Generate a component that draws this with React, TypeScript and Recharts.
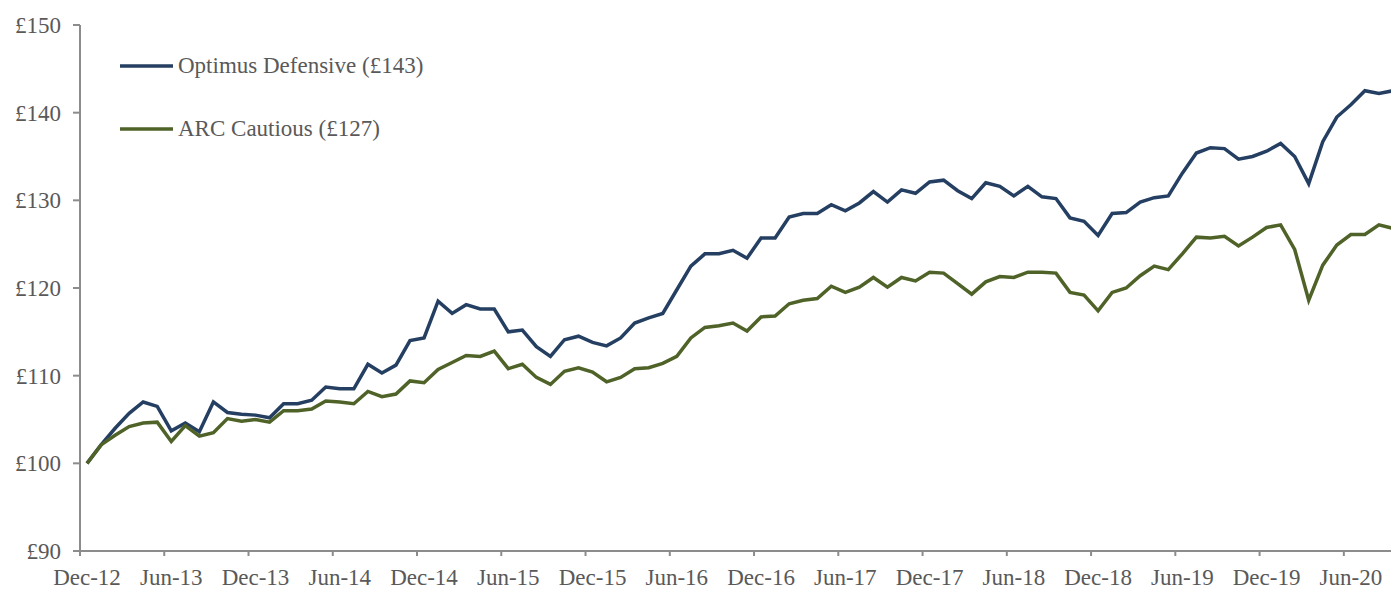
import React from 'react';
import { LineChart, Line, XAxis, YAxis } from 'recharts';

// monthly index values, Dec-12 = 100
const optimus = [
  100.0, 102.1, 104.0, 105.7, 107.0, 106.5, 103.7, 104.6, 103.6, 107.0,
  105.8, 105.6, 105.5, 105.2, 106.8, 106.8, 107.2, 108.7, 108.5, 108.5,
  111.3, 110.3, 111.2, 114.0, 114.3, 118.5, 117.1, 118.1, 117.6, 117.6,
  115.0, 115.2, 113.3, 112.2, 114.1, 114.5, 113.8, 113.4, 114.3, 116.0,
  116.6, 117.1, 119.8, 122.5, 123.9, 123.9, 124.3, 123.4, 125.7, 125.7,
  128.1, 128.5, 128.5, 129.5, 128.8, 129.7, 131.0, 129.8, 131.2, 130.8,
  132.1, 132.3, 131.1, 130.2, 132.0, 131.6, 130.5, 131.6, 130.4, 130.2,
  128.0, 127.6, 126.0, 128.5, 128.6, 129.8, 130.3, 130.5, 133.1, 135.4,
  136.0, 135.9, 134.7, 135.0, 135.6, 136.5, 135.0, 131.9, 136.7, 139.5,
  140.9, 142.5, 142.2, 142.5,
];

const arcCautious = [
  100.0, 102.1, 103.2, 104.2, 104.6, 104.7, 102.5, 104.3, 103.1, 103.5,
  105.1, 104.8, 105.0, 104.7, 106.0, 106.0, 106.2, 107.1, 107.0, 106.8,
  108.2, 107.6, 107.9, 109.4, 109.2, 110.7, 111.5, 112.3, 112.2, 112.8,
  110.8, 111.3, 109.8, 109.0, 110.5, 110.9, 110.4, 109.3, 109.8, 110.8,
  110.9, 111.4, 112.2, 114.3, 115.5, 115.7, 116.0, 115.1, 116.7, 116.8,
  118.2, 118.6, 118.8, 120.2, 119.5, 120.1, 121.2, 120.1, 121.2, 120.8,
  121.8, 121.7, 120.5, 119.3, 120.7, 121.3, 121.2, 121.8, 121.8, 121.7,
  119.5, 119.2, 117.4, 119.5, 120.0, 121.4, 122.5, 122.1, 123.9, 125.8,
  125.7, 125.9, 124.8, 125.8, 126.9, 127.2, 124.4, 118.6, 122.6, 124.9,
  126.1, 126.1, 127.2, 126.8,
];

const tickLabels = [
  'Dec-12', 'Jun-13', 'Dec-13', 'Jun-14', 'Dec-14', 'Jun-15', 'Dec-15', 'Jun-16',
  'Dec-16', 'Jun-17', 'Dec-17', 'Jun-18', 'Dec-18', 'Jun-19', 'Dec-19', 'Jun-20',
];
const yTicks = [90, 100, 110, 120, 130, 140, 150];

const seriesNames = ['Optimus Defensive (£143)', 'ARC Cautious (£127)'];
const colors = ['#253f62', '#4f6228'];

const data = optimus.map((v, i) => ({ i, optimus: v, arc: arcCautious[i] }));

const CHART_W = 1400;
const CHART_H = 589;
const LEFT = 80;
const UNIT = (CHART_W - LEFT) / data.length;
const FONT = '"Liberation Serif", "Times New Roman", serif';
const FS = 23;
const AXIS = '#8c8c8c';
const TEXT = '#595959';

const XTick = (props: any) => {
  const { x, y, payload } = props;
  const bx = x - UNIT / 2;
  return (
    <g>
      <line x1={bx} y1={y} x2={bx} y2={y + 5} stroke={AXIS} strokeWidth={2} />
      <text x={x} y={y + 34} textAnchor="middle" fill={TEXT} fontSize={FS} fontFamily={FONT}>
        {tickLabels[payload.value / 6]}
      </text>
    </g>
  );
};

// legend sits inside the plot, top-left, so draw it as an overlay
const LegendBox = () => (
  <div style={{ position: 'absolute', top: 34, left: 120, fontFamily: FONT, fontSize: FS, color: TEXT }}>
    {seriesNames.map((n, k) => (
      <div key={n} style={{ display: 'flex', alignItems: 'center', height: 63 }}>
        <svg width={58} height={10}>
          <line x1={0} y1={5} x2={53} y2={5} stroke={colors[k]} strokeWidth={3.5} />
        </svg>
        <span>{n}</span>
      </div>
    ))}
  </div>
);

export default function App() {
  return (
    <div style={{ position: 'absolute', left: 0, top: 0, width: 1391, height: 589, overflow: 'hidden', background: '#fff' }}>
      <style>{'body{margin:0}'}</style>
      <LineChart width={CHART_W} height={CHART_H} data={data} margin={{ top: 25, right: 0, bottom: 0, left: 0 }}>
        <XAxis
          dataKey="i"
          type="number"
          domain={[-0.5, data.length - 0.5]}
          ticks={tickLabels.map((_, k) => k * 6)}
          height={38}
          tickSize={0}
          tickMargin={0}
          tick={<XTick />}
          stroke={AXIS}
          strokeWidth={2}
          interval={0}
        />
        <YAxis
          domain={[90, 150]}
          ticks={yTicks}
          width={LEFT}
          tickSize={7}
          tickMargin={12}
          tickFormatter={(v) => `£${v}`}
          tick={{ fill: TEXT, fontSize: FS, fontFamily: FONT }}
          stroke={AXIS}
          strokeWidth={2}
        />
        <Line dataKey="optimus" stroke={colors[0]} strokeWidth={3.5} dot={false} isAnimationActive={false} />
        <Line dataKey="arc" stroke={colors[1]} strokeWidth={3.5} dot={false} isAnimationActive={false} />
      </LineChart>
      <LegendBox />
    </div>
  );
}
